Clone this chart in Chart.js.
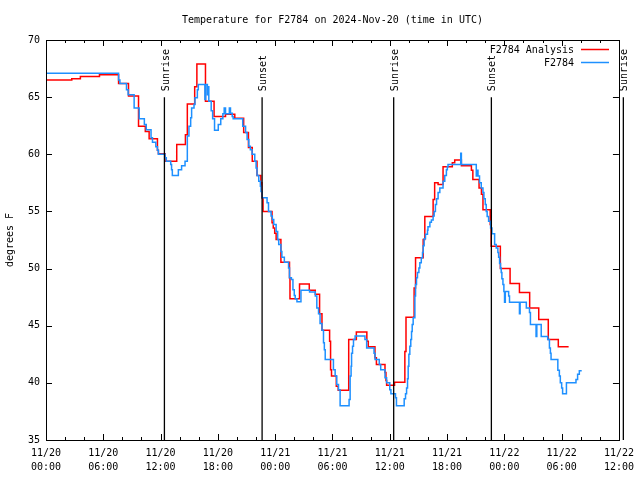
<!DOCTYPE html>
<html><head><meta charset="utf-8">
<script src="https://cdn.jsdelivr.net/npm/chart.js@4/dist/chart.umd.min.js"></script>
<style>html,body{margin:0;padding:0;background:#fff;}canvas{display:block;}</style>
</head><body>
<canvas id="c" width="640" height="480"></canvas>
<script>
// ---- data (hours since 11/20 00:00 UTC, degrees F) ----
const chartTitle = 'Temperature for F2784 on 2024-Nov-20 (time in UTC)';
const yAxisTitle = 'degrees F';
const analysisLabel = 'F2784 Analysis';
const obsLabel = 'F2784';

const analysisHours = [0,2.7,3.6,5.6,7.6,8.64,9.69,10.4,10.8,11.67,11.77,12.47,13.69,14.6,14.8,15.57,15.8,16.7,17.6,18.8,19.77,20.7,21.2,21.6,22.1,22.5,22.6,22.73,23.67,23.8,23.95,24.1,24.6,25.5,25.55,26.55,27.57,28.2,28.65,28.9,29.7,29.8,29.9,30.4,30.6,31.7,32.5,33.6,33.75,34.45,34.6,35.5,35.6,35.67,36.5,37.58,37.7,38.55,38.7,39.5,39.67,40.54,40.7,41.06,41.58,42.55,42.8,43.5,44.55,44.7,45.35,45.6,45.76,46.52,46.62,47.58,48.6,49.58,50.65,51.6,52.6,53.65,54.73];
const analysisTemps = [66.5,66.6,66.8,66.95,66.2,65.1,62.45,62.0,61.35,60.35,60.05,59.4,60.85,61.7,64.4,65.9,67.9,64.65,63.3,63.5,63.15,61.9,60.6,59.4,58.15,57.5,56.2,55.0,54.0,53.55,53.1,52.55,50.55,49.2,47.35,48.65,48.1,47.75,46.05,44.6,43.65,41.15,40.6,39.7,39.35,43.8,44.45,43.65,43.15,42.2,41.6,40.9,40.2,39.8,40.05,42.75,45.75,48.3,50.95,52.55,54.55,56.05,57.5,57.35,58.9,59.25,59.5,59.0,58.6,57.8,57.05,56.5,55.15,53.85,51.95,50.0,48.7,47.9,46.55,45.55,43.8,43.15,43.15];

const obsHours = [0,7.6,7.74,8.43,8.6,9.23,9.76,10.3,10.5,11.0,11.15,11.5,11.67,11.77,12.47,12.6,13.06,13.15,13.23,13.86,14.2,14.56,14.8,14.97,15.15,15.25,15.5,15.6,15.85,15.95,16.64,16.72,16.9,16.97,17.05,17.3,17.45,17.65,18.04,18.3,18.52,18.66,18.8,19.2,19.32,19.5,19.6,20.6,20.9,21.06,21.24,21.4,21.58,21.86,22.0,22.1,22.28,22.45,22.52,22.63,23.15,23.3,23.57,23.7,23.85,24.1,24.26,24.37,24.6,24.7,24.96,25.4,25.5,25.7,25.86,26.0,26.1,26.28,26.7,27.6,28.2,28.36,28.54,28.7,28.9,29.06,29.15,29.24,30.1,30.28,30.45,30.63,30.8,31.74,31.85,31.95,32.0,32.1,32.2,32.37,33.4,33.58,34.35,34.46,34.9,35.05,35.5,35.67,36.0,36.12,36.6,36.7,37.51,37.65,37.76,37.86,37.93,38.0,38.1,38.2,38.28,38.35,38.45,38.63,38.7,38.8,38.9,39.05,39.15,39.3,39.43,39.5,39.6,39.74,39.95,40.0,40.2,40.36,40.54,40.65,40.78,40.9,41.06,41.24,41.58,41.76,41.93,42.03,42.1,43.43,43.5,45.06,45.12,45.24,45.4,45.58,45.76,45.86,46.0,46.1,46.2,46.35,46.56,46.7,46.98,47.15,47.32,47.4,47.5,47.6,47.67,47.74,47.85,47.95,48.02,48.1,48.45,48.54,49.58,49.65,50.3,50.63,50.73,51.32,51.4,51.86,52.54,52.72,52.82,52.89,53.6,53.76,53.86,54.0,54.1,54.5,55.5,55.67,55.85,56.1];
const obsTemps = [67.1,66.5,66.2,65.65,65.2,64.05,63.1,62.6,62.15,61.45,61.05,60.65,60.35,60.0,59.7,59.4,59.1,58.65,58.15,58.65,59.0,59.4,61.6,62.45,63.2,64.05,64.35,64.95,65.65,66.1,64.8,66.1,65.2,65.9,64.65,63.8,63.1,62.1,62.6,63.1,63.55,64.05,63.55,64.05,63.6,63.3,63.1,62.45,61.9,61.3,60.7,60.4,60.0,59.4,58.8,58.15,57.65,57.2,56.75,56.2,55.75,55.0,54.6,54.3,53.85,53.25,52.55,52.1,51.5,51.0,50.55,50.05,49.2,49.05,48.15,47.65,47.35,47.1,48.1,47.95,47.6,46.55,46.05,45.2,44.6,43.5,42.9,42.05,41.15,40.6,39.85,39.4,38.0,38.55,40.6,41.45,42.6,43.2,43.8,44.1,43.8,43.05,42.6,42.05,41.6,41.15,40.45,40.0,39.4,39.05,38.7,38.0,38.6,39.05,39.55,40.35,41.45,42.5,43.2,43.8,44.5,45.1,45.7,47.6,48.6,49.2,49.65,50.05,50.5,50.95,51.4,52.0,52.6,53.0,53.35,53.65,54.05,54.25,54.6,55.0,55.6,56.1,56.65,57.05,57.65,58.15,58.65,58.9,59.1,60.1,59.1,58.1,58.6,58.1,57.5,57.05,56.65,56.1,55.6,55.0,54.55,54.15,53.55,53.05,52.1,51.8,51.4,51.0,50.45,50.05,49.65,49.1,48.6,48.0,47.05,48.0,47.6,47.05,46.05,47.05,46.55,46.15,45.1,44.05,45.1,44.05,43.8,43.05,42.6,42.05,41.1,40.6,40.0,39.55,39.05,40.0,40.3,40.75,41.05,41.05];

const sunLabels = ['Sunrise','Sunset','Sunrise','Sunset','Sunrise'];
const sunHours = [12.40,22.63,36.41,46.64,60.46];

const xTickHours = [0,6,12,18,24,30,36,42,48,54,60];
const xTickLabels = [['11/20','00:00'],['11/20','06:00'],['11/20','12:00'],['11/20','18:00'],['11/21','00:00'],['11/21','06:00'],['11/21','12:00'],['11/21','18:00'],['11/22','00:00'],['11/22','06:00'],['11/22','12:00']];
const yTickValues = [35,40,45,50,55,60,65,70];

// ---- styling ----
const FONT = "'DejaVu Sans Mono', 'Liberation Mono', monospace";
const RED = '#ff0000';
const BLUE = '#1e90ff';

const gnuFrame = {
  id: 'gnuFrame',
  afterDatasetsDraw(chart) {
    const {ctx, chartArea: a, scales: {x, y}} = chart;
    ctx.save();
    ctx.strokeStyle = '#000';
    ctx.fillStyle = '#000';
    ctx.lineWidth = 1;
    // frame
    ctx.strokeRect(Math.round(a.left) + 0.5, Math.round(a.top) + 0.5, Math.round(a.right - a.left), Math.round(a.bottom - a.top));
    // x ticks (major every 6 h, minor every 2 h), inward on bottom and top
    ctx.beginPath();
    for (let h = 0; h <= 60; h += 2) {
      const px = Math.round(x.getPixelForValue(h)) + 0.5;
      const len = (h % 6 === 0) ? 6 : 3;
      ctx.moveTo(px, a.bottom); ctx.lineTo(px, a.bottom - len);
      ctx.moveTo(px, a.top); ctx.lineTo(px, a.top + len);
    }
    yTickValues.forEach(v => {
      const py = Math.round(y.getPixelForValue(v)) + 0.5;
      ctx.moveTo(a.left, py); ctx.lineTo(a.left + 6, py);
      ctx.moveTo(a.right, py); ctx.lineTo(a.right - 6, py);
    });
    ctx.stroke();
    // sunrise / sunset markers
    ctx.lineWidth = 1.3;
    ctx.font = '10px ' + FONT;
    sunHours.forEach((h, i) => {
      const px = x.getPixelForValue(h);
      const top = y.getPixelForValue(65);
      ctx.beginPath();
      ctx.moveTo(px, top); ctx.lineTo(px, a.bottom);
      ctx.stroke();
      ctx.save();
      ctx.translate(px + 1.5, top - 6);
      ctx.rotate(-Math.PI / 2);
      ctx.textAlign = 'left';
      ctx.textBaseline = 'middle';
      ctx.fillText(sunLabels[i], 0, 0);
      ctx.restore();
    });
    // legend
    ctx.textAlign = 'right';
    ctx.textBaseline = 'middle';
    ctx.fillText(analysisLabel, 574, 50);
    ctx.fillText(obsLabel, 574, 63);
    ctx.lineWidth = 1.5;
    ctx.strokeStyle = RED;
    ctx.beginPath(); ctx.moveTo(581, 49.5); ctx.lineTo(609, 49.5); ctx.stroke();
    ctx.strokeStyle = BLUE;
    ctx.beginPath(); ctx.moveTo(581, 62.5); ctx.lineTo(609, 62.5); ctx.stroke();
    // title
    ctx.textAlign = 'center';
    ctx.fillText(chartTitle, (a.left + a.right) / 2, 20);
    // y axis title
    ctx.save();
    ctx.translate(10, (a.top + a.bottom) / 2);
    ctx.rotate(-Math.PI / 2);
    ctx.textAlign = 'center';
    ctx.textBaseline = 'middle';
    ctx.fillText(yAxisTitle, 0, 0);
    ctx.restore();
    ctx.restore();
  }
};

new Chart(document.getElementById('c').getContext('2d'), {
  type: 'line',
  data: {
    datasets: [
      { label: obsLabel, data: obsHours.map((h, i) => ({x: h, y: obsTemps[i]})),
        borderColor: BLUE, borderWidth: 1.5, stepped: 'before', pointRadius: 0, fill: false, order: 0 },
      { label: analysisLabel, data: analysisHours.map((h, i) => ({x: h, y: analysisTemps[i]})),
        borderColor: RED, borderWidth: 1.5, stepped: 'before', pointRadius: 0, fill: false, order: 1 }
    ]
  },
  options: {
    responsive: false, animation: false, devicePixelRatio: 1,
    layout: { padding: { top: 40, right: 18, left: 0, bottom: 0 } },
    plugins: { legend: { display: false }, title: { display: false }, tooltip: { enabled: false } },
    scales: {
      x: {
        type: 'linear', min: 0, max: 60,
        afterFit(s) { s.height = 40; },
        afterBuildTicks(s) { s.ticks = xTickHours.map(v => ({value: v})); },
        grid: { display: false, drawTicks: false }, border: { display: false },
        ticks: { autoSkip: false, maxRotation: 0, minRotation: 0, padding: 6, color: '#000',
          font: { family: FONT, size: 10, lineHeight: 1.4 },
          callback: (v) => xTickLabels[xTickHours.indexOf(v)] }
      },
      y: {
        min: 35, max: 70,
        afterFit(s) { s.width = 46; },
        afterBuildTicks(s) { s.ticks = yTickValues.map(v => ({value: v})); },
        grid: { display: false, drawTicks: false }, border: { display: false },
        ticks: { padding: 6, color: '#000', font: { family: FONT, size: 10 } }
      }
    }
  },
  plugins: [gnuFrame]
});
</script>
</body></html>
